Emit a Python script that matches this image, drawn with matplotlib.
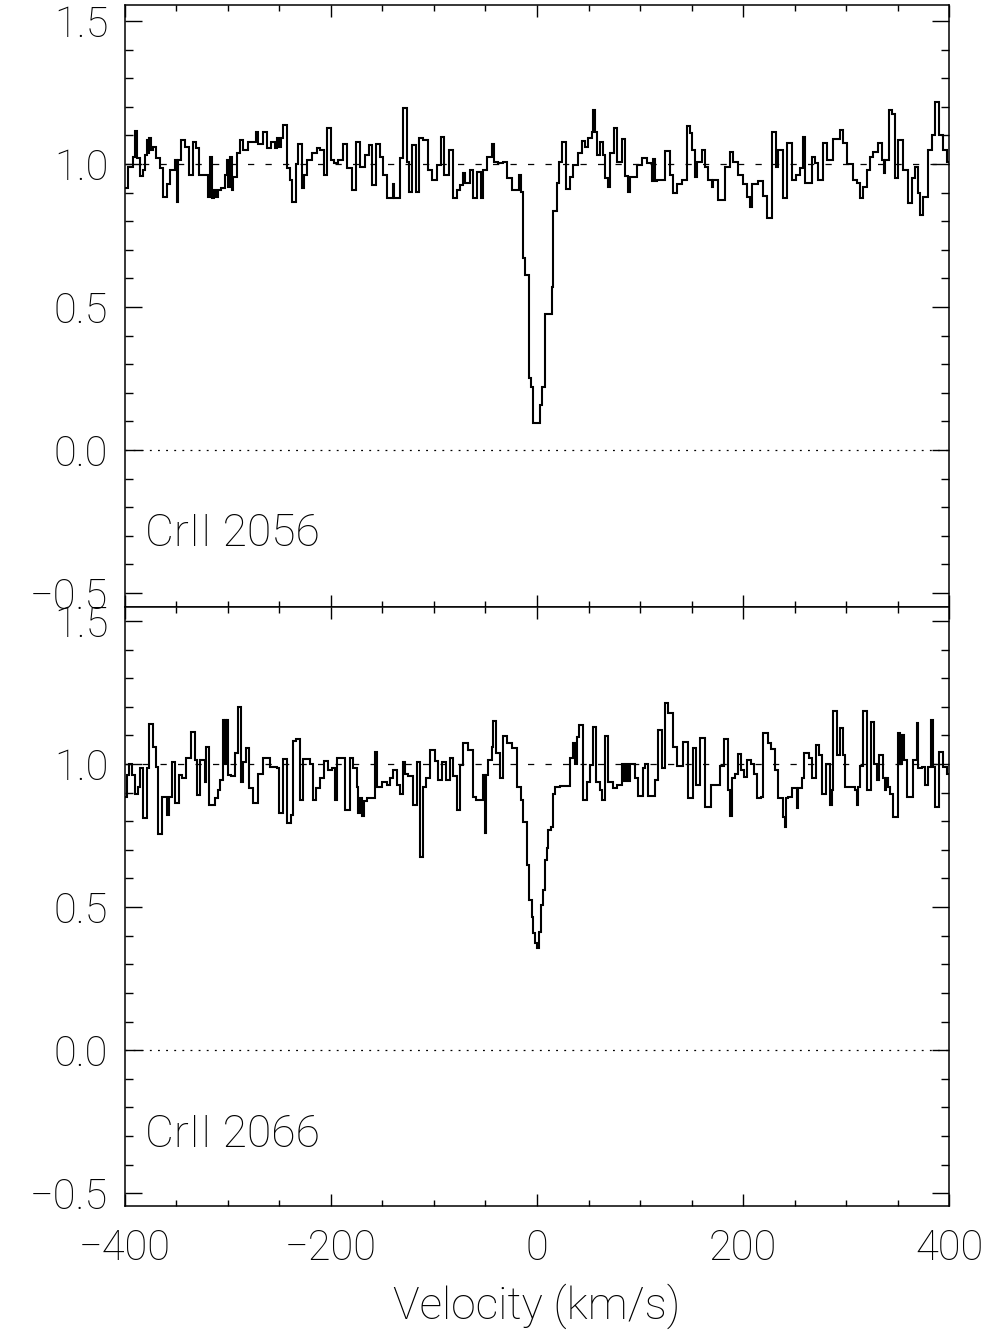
import matplotlib
matplotlib.use('Agg')
import matplotlib.pyplot as plt
import numpy as np
from matplotlib.ticker import MultipleLocator, FuncFormatter

# CrII 2056: left edge of each pixel (km/s) and normalised flux
vel_2056 = [-400.0, -396.8, -392.6, -390.3, -388.7, -385.5, -382.2, -380.6, -379.0, -377.4,
            -376.4, -374.8, -373.2, -369.9, -366.1, -362.8, -359.6, -356.4, -351.5, -349.9,
            -348.3, -346.0, -341.8, -337.9, -333.7, -331.1, -328.2, -319.1, -317.5, -315.9,
            -313.6, -311.7, -309.4, -306.8, -303.0, -301.3, -299.7, -298.1, -296.5, -294.9,
            -291.6, -288.4, -285.2, -280.3, -272.9, -270.6, -266.4, -262.5, -258.6, -254.4,
            -252.8, -250.5, -248.9, -247.0, -243.1, -239.9, -238.2, -234.4, -231.8, -228.5,
            -226.3, -223.7, -218.8, -214.0, -210.7, -206.9, -203.6, -200.4, -197.1, -192.9,
            -188.7, -184.8, -180.0, -175.8, -171.9, -167.0, -163.2, -159.9, -156.4, -152.5,
            -149.3, -146.0, -140.2, -138.9, -133.1, -130.5, -126.6, -124.0, -121.1, -117.5,
            -114.3, -110.4, -105.6, -102.3, -97.5, -93.6, -90.4, -85.2, -81.9, -78.1,
            -74.8, -71.6, -70.0, -65.1, -61.9, -58.0, -54.8, -52.2, -48.9, -44.1,
            -41.8, -37.6, -33.4, -29.5, -24.7, -17.2, -15.6, -13.9, -11.7, -7.4,
            -5.8, -4.2, 2.9, 4.9, 7.8, 14.5, 16.0, 19.1, 21.7, 23.9,
            28.1, 32.0, 35.3, 40.1, 43.4, 46.6, 49.8, 53.1, 54.7, 56.3,
            57.9, 61.2, 64.4, 66.0, 69.2, 70.9, 74.7, 78.0, 82.2, 85.4,
            88.7, 90.3, 96.8, 101.6, 106.5, 111.3, 113.0, 114.5, 116.2, 124.3,
            129.1, 132.3, 135.6, 140.4, 145.3, 148.5, 150.1, 153.4, 155.0, 159.9,
            163.1, 166.3, 169.6, 171.2, 176.0, 182.5, 187.4, 190.6, 195.5, 200.3,
            203.5, 206.8, 208.4, 214.9, 219.7, 223.0, 227.8, 231.7, 234.3, 238.5,
            242.4, 247.9, 251.4, 255.3, 258.6, 260.2, 266.6, 269.9, 273.1, 278.0,
            281.2, 287.7, 294.1, 297.4, 300.6, 306.4, 310.3, 313.6, 316.8, 320.0,
            323.3, 326.5, 331.4, 334.6, 336.5, 337.9, 342.0, 344.3, 347.6, 350.8,
            355.0, 360.5, 363.7, 367.0, 369.5, 371.8, 375.0, 379.9, 383.1, 386.4,
            390.6, 394.5, 397.7]
flux_2056 = [0.915, 0.990, 1.026, 1.117, 1.020, 0.958, 0.980, 1.030, 1.084, 1.037,
             1.090, 1.050, 1.060, 1.020, 0.985, 0.886, 0.930, 0.980, 1.014, 0.868,
             1.014, 1.084, 1.060, 0.960, 1.078, 1.055, 0.960, 0.886, 1.026, 0.880,
             0.910, 0.886, 0.910, 0.915, 0.960, 1.014, 0.920, 1.026, 0.910, 0.955,
             1.037, 1.084, 1.050, 1.078, 1.113, 1.070, 1.113, 1.055, 1.078, 1.055,
             1.090, 1.060, 1.090, 1.136, 0.985, 0.944, 0.868, 1.000, 1.070, 0.915,
             0.960, 1.014, 1.037, 1.055, 1.050, 0.960, 1.125, 1.014, 1.005, 1.014,
             1.070, 0.985, 0.910, 1.078, 0.990, 1.030, 1.066, 0.927, 1.070, 1.026,
             0.960, 0.880, 0.930, 0.880, 1.020, 1.195, 1.008, 0.903, 1.066, 0.903,
             1.090, 1.084, 0.980, 0.944, 0.996, 1.095, 0.960, 1.050, 0.880, 0.910,
             0.927, 0.967, 0.932, 0.980, 0.880, 0.973, 0.880, 0.980, 1.026, 1.070,
             1.008, 1.002, 1.008, 0.950, 0.910, 0.960, 0.903, 0.670, 0.612, 0.252,
             0.221, 0.095, 0.157, 0.221, 0.476, 0.571, 0.836, 0.932, 1.008, 1.078,
             0.911, 0.953, 0.996, 1.037, 1.080, 1.060, 1.090, 1.113, 1.190, 1.113,
             1.030, 1.078, 1.030, 0.950, 0.920, 1.037, 1.127, 1.008, 1.086, 0.958,
             0.903, 0.956, 0.996, 1.022, 1.002, 0.942, 1.016, 0.942, 0.944, 1.047,
             0.960, 0.900, 0.930, 0.944, 1.133, 1.107, 1.050, 0.953, 1.008, 1.050,
             0.988, 0.944, 0.920, 0.944, 0.874, 0.988, 1.043, 1.008, 0.960, 0.930,
             0.886, 0.850, 0.930, 0.942, 0.888, 0.810, 1.113, 0.988, 1.049, 0.880,
             1.075, 0.944, 0.960, 0.985, 1.096, 0.932, 1.026, 1.005, 0.944, 1.075,
             1.014, 1.086, 1.120, 1.072, 1.000, 0.944, 0.932, 0.880, 0.921, 0.979,
             1.026, 1.043, 1.072, 1.014, 0.967, 1.014, 1.189, 1.175, 0.950, 1.084,
             0.979, 0.865, 0.950, 0.991, 0.900, 0.820, 0.883, 1.050, 1.100, 1.215,
             1.100, 1.049, 1.008]

# CrII 2066
vel_2066 = [-400.0, -398.4, -395.8, -393.6, -390.3, -387.1, -385.5, -382.2, -378.4, -376.4,
            -373.2, -369.9, -367.7, -364.4, -359.6, -357.0, -354.7, -351.5, -347.3, -345.0,
            -340.8, -336.3, -332.1, -329.8, -327.2, -322.4, -321.0, -318.2, -312.7, -309.4,
            -307.8, -305.2, -304.0, -303.0, -301.5, -300.5, -299.7, -297.2, -293.3, -290.0,
            -287.8, -285.2, -282.6, -279.3, -275.4, -270.6, -265.8, -259.3, -252.2, -250.2,
            -247.0, -243.1, -239.2, -236.6, -234.0, -230.1, -227.6, -220.4, -217.2, -214.6,
            -210.7, -206.9, -202.7, -199.4, -196.2, -193.9, -186.5, -181.6, -179.0, -175.1,
            -173.5, -171.5, -169.5, -167.5, -165.4, -162.2, -157.3, -155.7, -150.9, -146.0,
            -142.8, -139.5, -136.3, -133.1, -129.8, -128.2, -125.0, -120.1, -116.9, -113.6,
            -110.4, -107.8, -104.0, -99.1, -95.9, -92.6, -88.4, -84.5, -81.3, -77.4,
            -74.8, -71.6, -66.7, -62.5, -59.3, -52.0, -50.5, -49.5, -48.0, -44.1,
            -42.5, -39.9, -36.0, -32.8, -29.5, -24.7, -19.8, -16.0, -13.5, -10.0,
            -7.4, -5.2, -3.6, -1.9, -0.3, 2.3, 3.9, 6.1, 7.8, 9.4,
            11.0, 13.3, 15.2, 17.5, 22.3, 32.0, 35.3, 37.0, 38.5, 41.1,
            44.3, 48.9, 51.5, 54.0, 57.3, 61.2, 62.8, 66.0, 69.2, 74.1,
            78.0, 82.2, 84.0, 86.0, 88.0, 90.0, 95.1, 98.4, 103.2, 104.8,
            108.1, 114.6, 117.8, 121.0, 124.3, 127.5, 131.7, 135.6, 142.1, 146.9,
            151.1, 154.4, 158.2, 163.1, 168.6, 177.7, 181.5, 185.7, 187.4, 189.0,
            192.2, 195.5, 197.7, 201.0, 204.2, 207.4, 210.7, 213.3, 217.1, 219.7,
            224.6, 226.8, 231.0, 234.3, 238.5, 240.7, 241.8, 244.0, 247.2, 252.1,
            253.7, 256.9, 259.2, 264.4, 266.6, 270.9, 274.1, 276.4, 280.5, 284.4,
            286.1, 287.7, 291.6, 294.1, 297.4, 299.0, 308.7, 310.5, 312.0, 313.6,
            316.8, 320.7, 324.0, 327.2, 329.8, 332.4, 335.6, 337.5, 339.0, 341.1,
            343.0, 346.0, 350.8, 352.5, 354.0, 356.3, 358.9, 365.3, 368.6, 370.2,
            373.4, 376.7, 379.9, 382.2, 384.1, 386.4, 390.6, 394.5, 397.7]
flux_2066 = [0.886, 0.962, 1.000, 0.962, 0.895, 0.921, 0.988, 0.810, 0.988, 1.139,
             1.061, 0.991, 0.755, 0.886, 0.822, 0.886, 1.008, 0.865, 0.962, 0.953,
             1.020, 1.113, 1.014, 0.892, 1.014, 0.938, 1.061, 0.857, 0.883, 0.909,
             0.946, 1.154, 1.000, 1.154, 1.000, 1.154, 0.962, 0.958, 1.040, 1.198,
             0.938, 1.008, 1.055, 0.915, 0.865, 0.967, 1.022, 0.991, 0.985, 0.830,
             1.016, 0.793, 0.822, 1.082, 1.086, 0.876, 1.016, 1.000, 0.874, 0.915,
             0.950, 1.012, 0.979, 0.985, 0.876, 1.020, 0.841, 1.020, 0.988, 0.920,
             0.830, 0.880, 0.820, 0.870, 0.883, 0.880, 1.043, 0.921, 0.938, 0.927,
             0.950, 0.979, 0.927, 0.897, 1.008, 0.967, 0.958, 0.857, 1.008, 0.675,
             0.921, 0.953, 1.049, 1.012, 0.944, 1.008, 0.944, 1.020, 0.958, 0.841,
             0.998, 1.075, 1.049, 0.886, 0.874, 0.962, 0.758, 0.962, 1.014, 1.061,
             1.152, 1.037, 0.953, 1.098, 1.075, 1.055, 0.920, 0.875, 0.798, 0.647,
             0.524, 0.466, 0.408, 0.375, 0.356, 0.414, 0.507, 0.559, 0.664, 0.705,
             0.769, 0.780, 0.897, 0.920, 0.923, 1.020, 1.075, 1.000, 1.096, 1.136,
             0.874, 0.938, 0.996, 1.128, 0.938, 0.909, 0.876, 1.099, 0.938, 0.915,
             0.927, 1.000, 0.940, 1.000, 0.940, 1.000, 0.953, 0.888, 0.988, 1.000,
             0.888, 0.946, 1.119, 0.985, 1.212, 1.180, 1.058, 0.993, 1.078, 0.883,
             1.055, 0.927, 1.090, 0.850, 0.927, 0.993, 1.086, 0.911, 0.820, 0.950,
             0.967, 1.035, 0.979, 0.956, 1.014, 1.000, 0.967, 0.880, 0.886, 1.110,
             1.072, 1.051, 0.979, 0.880, 0.816, 0.780, 0.880, 0.886, 0.915, 0.845,
             0.915, 0.953, 1.040, 1.020, 0.953, 1.066, 1.031, 0.897, 1.000, 0.857,
             0.909, 1.186, 1.031, 1.125, 1.031, 0.921, 0.909, 0.857, 0.920, 0.993,
             1.186, 0.909, 1.148, 1.000, 0.944, 1.031, 0.953, 0.909, 0.953, 0.921,
             0.897, 0.816, 1.107, 1.000, 1.100, 1.014, 0.886, 1.014, 1.142, 0.985,
             0.991, 0.927, 0.991, 1.154, 0.991, 0.850, 1.043, 0.991, 0.967]

V_MAX = 400.0

plt.rcParams['font.family'] = ['Roboto', 'DejaVu Sans']
plt.rcParams['font.weight'] = 'light'
plt.rcParams['axes.labelweight'] = 'light'


def minus_fmt(x, pos):
    return ('%.1f' % x).replace('-', '\u2212')


def plot_panel(ax, vel, flux, label, ylim):
    edges = np.append(vel, V_MAX)
    ax.axhline(1.0, color='black', lw=0.9, dashes=(5, 9), zorder=1)
    ax.axhline(0.0, color='black', lw=0.9, dashes=(1.5, 5), zorder=1)
    ax.stairs(flux, edges, color='black', lw=1.5, baseline=None, zorder=2)
    ax.set_xlim(-400, 400)
    ax.set_ylim(*ylim)
    ax.xaxis.set_major_locator(MultipleLocator(200))
    ax.xaxis.set_minor_locator(MultipleLocator(50))
    ax.yaxis.set_major_locator(MultipleLocator(0.5))
    ax.yaxis.set_minor_locator(MultipleLocator(0.1))
    ax.yaxis.set_major_formatter(FuncFormatter(minus_fmt))
    ax.tick_params(which='both', direction='in', top=True, right=True, width=1.0,
                   labelsize=30, labelcolor='black')
    ax.tick_params(axis='x', which='major', length=8.6, pad=16)
    ax.tick_params(axis='x', which='minor', length=4.3)
    ax.tick_params(axis='y', which='major', length=12, pad=12)
    ax.tick_params(axis='y', which='minor', length=6)
    for s in ax.spines.values():
        s.set_linewidth(1.1)
    ax.text(-381, -0.337, label, fontsize=32, ha='left', va='baseline')


fig = plt.figure(figsize=(9.95, 13.35), dpi=100)
ax1 = fig.add_axes([0.1256, 0.5453, 0.8282, 0.4510])
ax2 = fig.add_axes([0.1256, 0.0966, 0.8282, 0.4487], sharex=ax1)

plot_panel(ax1, vel_2056, flux_2056, 'CrII 2056', (-0.549, 1.556))
plot_panel(ax2, vel_2066, flux_2066, 'CrII 2066', (-0.545, 1.549))
ax1.tick_params(axis='x', labelbottom=False)
ax2.set_xlabel('Velocity (km/s)', fontsize=32, labelpad=10)

fig.savefig('out.png', dpi=100)
